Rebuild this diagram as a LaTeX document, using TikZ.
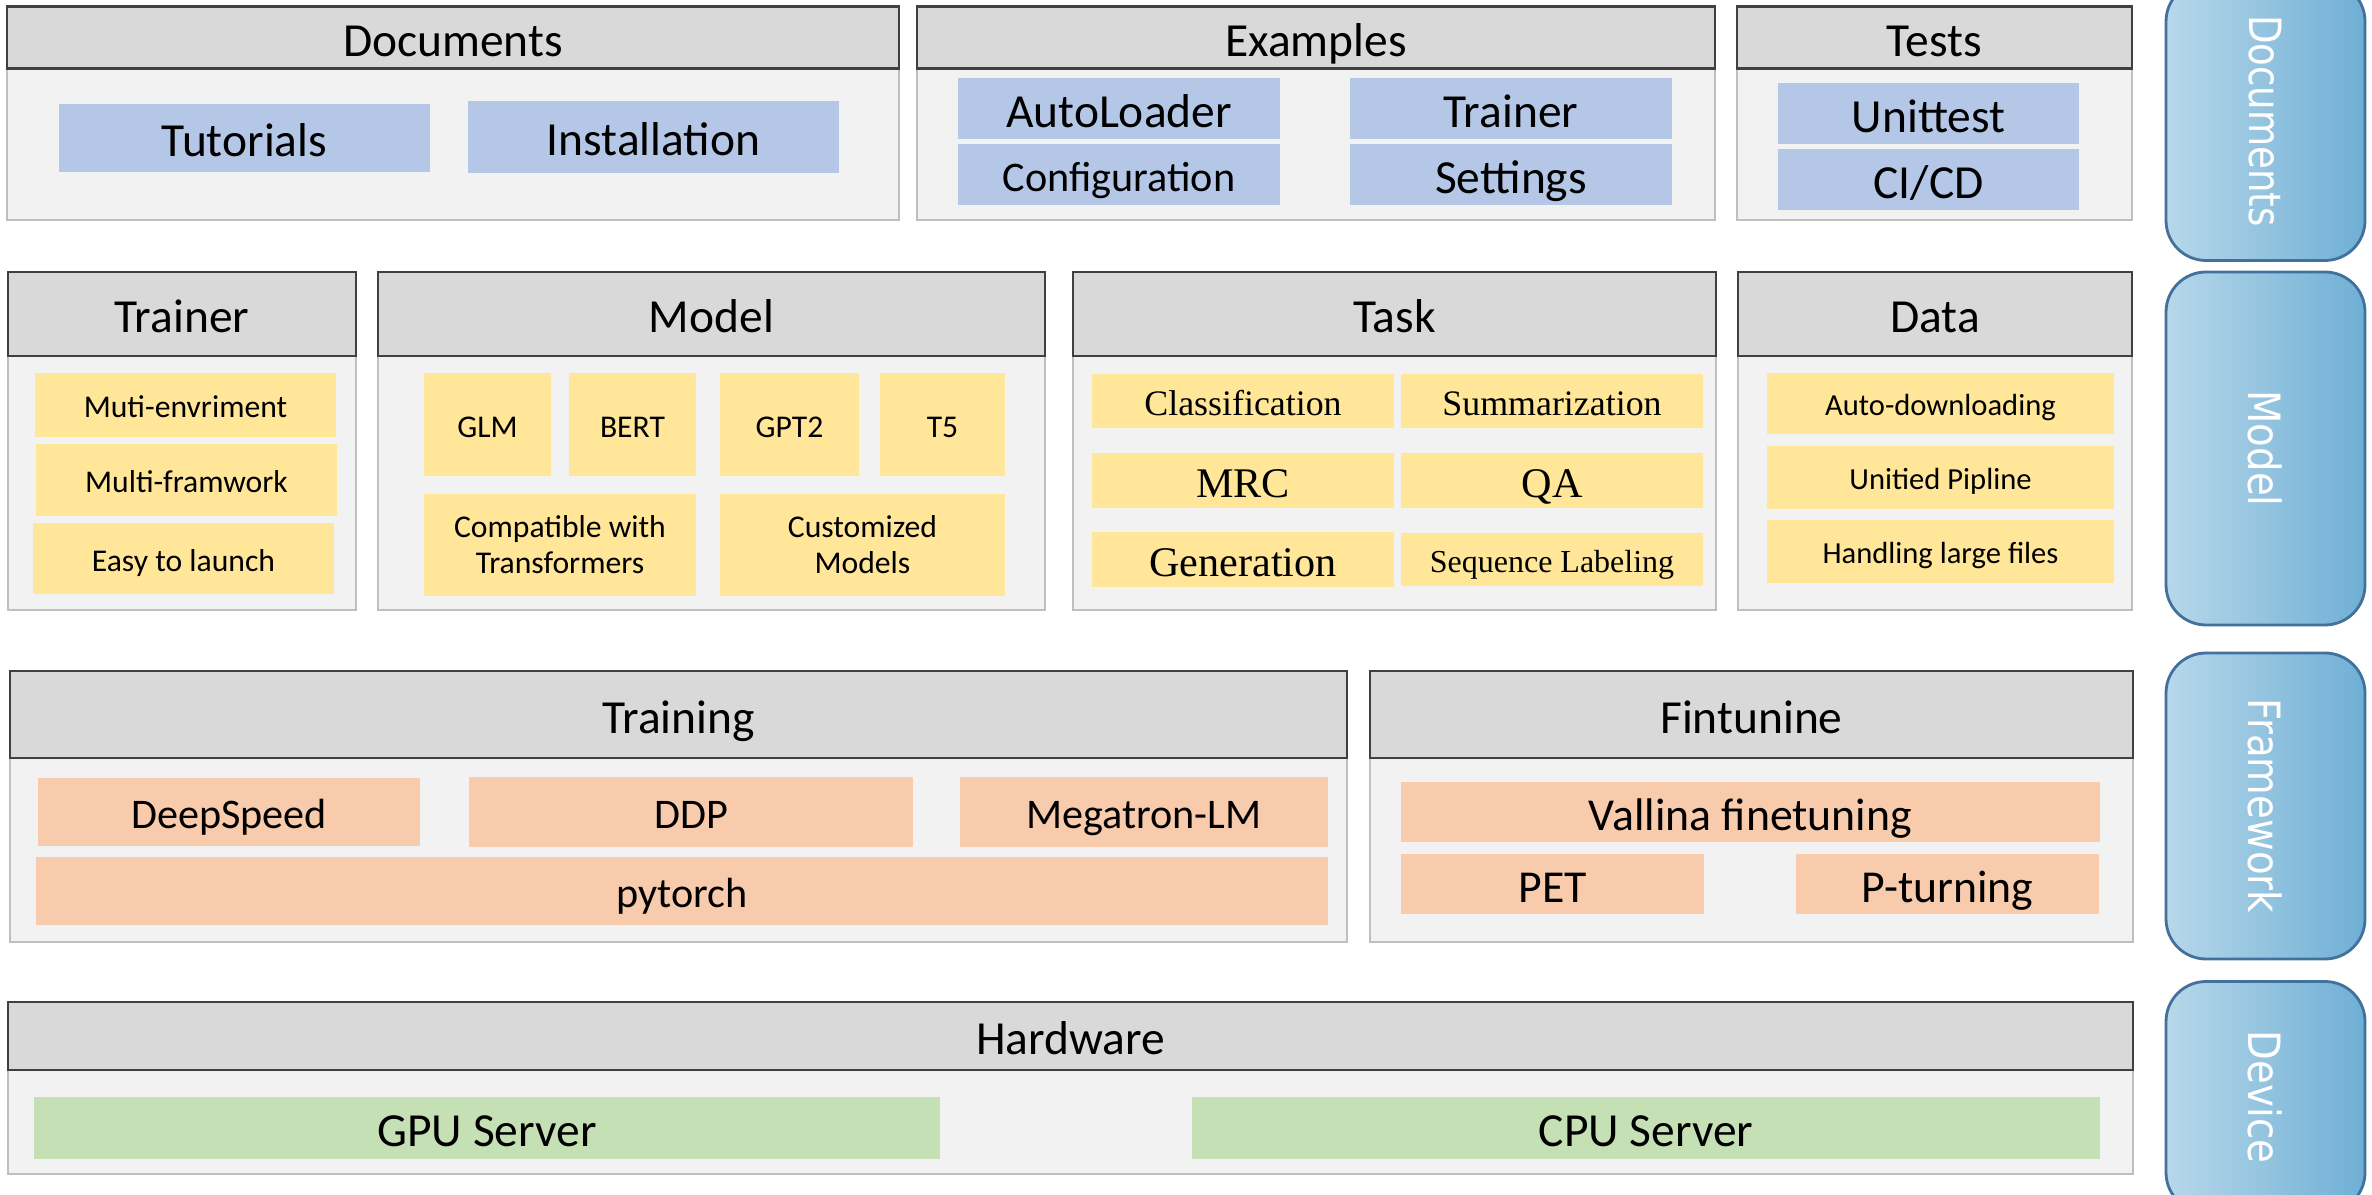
\documentclass[tikz,border=0pt]{standalone}
\usepackage{fontspec}
\usepackage{graphicx}
\setmainfont{Carlito}
\newfontfamily\serifbox{Liberation Serif}
\newfontfamily\tabfont{DejaVu Sans}
\newcommand{\fsz}[1]{\fontsize{#1}{#1}\selectfont}
\definecolor{headgray}{HTML}{D9D9D9}
\definecolor{bodygray}{HTML}{F2F2F2}
\definecolor{linegray}{HTML}{BFBFBF}
\definecolor{docfill}{HTML}{B4C7E7}
\definecolor{modfill}{HTML}{FFE699}
\definecolor{fwfill}{HTML}{F8CBAD}
\definecolor{devfill}{HTML}{C5E0B4}
\definecolor{tableft}{HTML}{B7D8EA}
\definecolor{tabright}{HTML}{6FAFD5}
\definecolor{tabline}{HTML}{41719C}

\begin{document}
\begin{tikzpicture}[x=0.01cm,y=-0.01cm,
    sz/.style 2 args={minimum width=#1*\px, minimum height=#2*\px},
    tx/.style={font=\fsz{#1}, text height=1.05*#1pt, text depth=0.25*#1pt},
    txs/.style={tx=#1, font=\serifbox\fsz{#1}},
    panel/.style={draw=linegray, line width=0.6pt, fill=bodygray, inner sep=0pt, outer sep=0pt},
    head/.style={draw=black!75, line width=0.7pt, fill=headgray, inner sep=0pt, outer sep=0pt, tx=13.5},
    cell/.style={inner sep=0pt, outer sep=0pt, align=center},
    docbox/.style={cell, fill=docfill, tx=13.5},
    modbox/.style={cell, fill=modfill, tx=9},
    taskbox/.style={cell, fill=modfill},
    fwbox/.style={cell, fill=fwfill, tx=12},
    devbox/.style={cell, fill=devfill, tx=13.5},
    tab/.style={draw=tabline, line width=0.8pt, left color=tableft, right color=tabright,
      rounded corners=0.4cm, inner sep=0pt, text=white, font=\tabfont\fsz{11}}]
  \def\px{0.01cm}
  \useasboundingbox (0,0) rectangle (2372,1195);
  \clip (0,0) rectangle (2372,1195);
  % documents layer
  \node (DocP) [panel, sz={892}{213}] at (453,113.5) {};
  \node (DocH) [head, sz={892}{61}] at (453,37.5) {Documents};
  \node (DocTut) [docbox, sz={371}{68}] at (244.5,138) {Tutorials};
  \node (DocIns) [docbox, sz={371}{72}] at (653.5,137) {Installation};
  \node (ExP) [panel, sz={798}{213}] at (1316,113.5) {};
  \node (ExH) [head, sz={798}{61}] at (1316,37.5) {Examples};
  \node (ExAuto) [docbox, sz={322}{61}] at (1119,108.5) {AutoLoader};
  \node (ExTrain) [docbox, sz={322}{61}] at (1511,108.5) {Trainer};
  \node (ExConf) [docbox, sz={322}{61}, tx=12] at (1119,174.5) {Configuration};
  \node (ExSet) [docbox, sz={322}{61}] at (1511,174.5) {Settings};
  \node (TsP) [panel, sz={395}{213}] at (1934.5,113.5) {};
  \node (TsH) [head, sz={395}{61}] at (1934.5,37.5) {Tests};
  \node (TsUnit) [docbox, sz={301}{61}] at (1928.5,113.5) {Unittest};
  \node (TsCI) [docbox, sz={301}{61}] at (1928.5,179.5) {CI/CD};
  % model layer
  \node (TrP) [panel, sz={348}{338}] at (182,441) {};
  \node (TrH) [head, sz={348}{84}] at (182,314) {Trainer};
  \node (TrEnv) [modbox, sz={301}{64}] at (185.5,405) {Muti-envriment};
  \node (TrFw) [modbox, sz={301}{72}] at (186.5,480) {Multi-framwork};
  \node (TrEasy) [modbox, sz={301}{71}] at (183.5,558.5) {Easy to launch};
  \node (MoP) [panel, sz={667}{338}] at (711.5,441) {};
  \node (MoH) [head, sz={667}{84}] at (711.5,314) {Model};
  \node (MoGLM) [modbox, sz={127}{103}] at (487.5,424.5) {GLM};
  \node (MoBERT) [modbox, sz={127}{103}] at (632.5,424.5) {BERT};
  \node (MoGPT) [modbox, sz={139}{103}] at (789.5,424.5) {GPT2};
  \node (MoT5) [modbox, sz={125}{103}] at (942.5,424.5) {T5};
  \node (MoComp) [modbox, sz={272}{102}, text height={}, text depth={}] at (560,545) {Compatible with\\[1.2pt]Transformers};
  \node (MoCust) [modbox, sz={285}{102}, text height={}, text depth={}] at (862.5,545) {Customized\\[1.2pt]Models};
  \node (TaP) [panel, sz={643}{338}] at (1394.5,441) {};
  \node (TaH) [head, sz={643}{84}] at (1394.5,314) {Task};
  \node (TaCls) [taskbox, sz={302}{54}, txs=10.2] at (1243,401) {Classification};
  \node (TaSum) [taskbox, sz={302}{54}, txs=10.2] at (1552,401) {Summarization};
  \node (TaMRC) [taskbox, sz={302}{53}, txs=12] at (1243,480.5) {MRC};
  \node (TaQA) [taskbox, sz={302}{53}, txs=12] at (1552,480.5) {QA};
  \node (TaGen) [taskbox, sz={302}{53}, txs=12] at (1243,559.5) {Generation};
  \node (TaSeq) [taskbox, sz={302}{53}, txs=9.1] at (1552,559.5) {Sequence Labeling};
  \node (DaP) [panel, sz={394}{338}] at (1935,441) {};
  \node (DaH) [head, sz={394}{84}] at (1935,314) {Data};
  \node (DaAuto) [modbox, sz={347}{61}, tx=8.7] at (1940.5,403.5) {Auto-downloading};
  \node (DaPipe) [modbox, sz={347}{63}, tx=8.7] at (1940.5,477.5) {Unitied Pipline};
  \node (DaLarge) [modbox, sz={347}{63}, tx=8.7] at (1940.5,551.5) {Handling large files};
  % framework layer
  \node (TnP) [panel, sz={1337}{271}] at (678.5,806.5) {};
  \node (TnH) [head, sz={1337}{87}] at (678.5,714.5) {Training};
  \node (TnDS) [fwbox, sz={382}{68}] at (229,812) {DeepSpeed};
  \node (TnDDP) [fwbox, sz={444}{70}] at (691,812) {DDP};
  \node (TnMeg) [fwbox, sz={368}{70}] at (1144,812) {Megatron-LM};
  \node (TnPT) [fwbox, sz={1292}{68}] at (682,891) {pytorch};
  \node (FtP) [panel, sz={763}{271}] at (1751.5,806.5) {};
  \node (FtH) [head, sz={763}{87}] at (1751.5,714.5) {Fintunine};
  \node (FtVan) [fwbox, sz={699}{54}, tx=13] at (1750.5,812) {Vallina finetuning};
  \node (FtPET) [fwbox, sz={303}{54}, tx=13] at (1552.5,884) {PET};
  \node (FtPT) [fwbox, sz={303}{54}, tx=13] at (1947.5,884) {P-turning};
  % device layer
  \node (HwP) [panel, sz={2125}{172}] at (1070.5,1088) {};
  \node (HwH) [head, sz={2125}{68}] at (1070.5,1036) {Hardware};
  \node (HwGPU) [devbox, sz={906}{54}] at (487,1128) {GPU Server};
  \node (HwCPU) [devbox, sz={908}{54}] at (1646,1128) {CPU Server};
  % side tabs
  \node (TabDoc) [tab, sz={199}{279}] at (2265.5,121) {\rotatebox{-90}{\scalebox{0.96}[1.15]{Documents}}};
  \node (TabMod) [tab, sz={199}{353}] at (2265.5,448.5) {\rotatebox{-90}{\scalebox{1}[1.15]{Model}}};
  \node (TabFw) [tab, sz={199}{306}] at (2265.5,806) {\rotatebox{-90}{\scalebox{1}[1.15]{Framework}}};
  \node (TabDev) [tab, sz={199}{231}] at (2265.5,1097) {\rotatebox{-90}{\scalebox{1}[1.15]{Device}}};
\end{tikzpicture}
\end{document}
